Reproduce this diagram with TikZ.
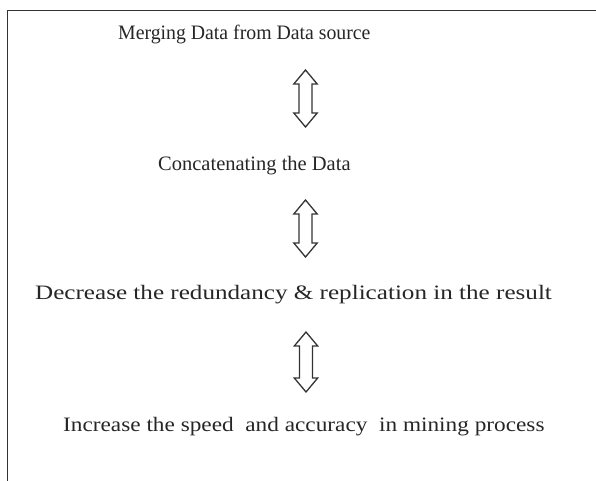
\documentclass[tikz,border=0pt]{standalone}
\usepackage{fontspec}
\usepackage{graphicx}
\setmainfont{Liberation Serif}
\begin{document}
\begin{tikzpicture}[x=1pt,y=-1pt,
  frameline/.style={line width=1.5pt, draw=black!80},
  steptext/.style={anchor=base west, inner sep=0pt, font=\fontsize{20.5}{24}\selectfont, text=black!85},
  arrowline/.style={line width=1.3pt, draw=black!80, line join=miter},
  updown/.pic={
    \draw[arrowline] (0,-#1) -- (11.7,-#1+14) -- (6.5,-#1+14) -- (6.5,#1-14)
      -- (11.7,#1-14) -- (0,#1) -- (-11.7,#1-14) -- (-6.5,#1-14)
      -- (-6.5,-#1+14) -- (-11.7,-#1+14) -- cycle;
  }]
  \useasboundingbox (0,0) rectangle (596,481);

  % open frame: top edge and left edge only
  \coordinate (topleft) at (7.5,10.5);
  \coordinate (topright) at (600,10.5);
  \coordinate (bottomleft) at (7.5,485);
  \draw[frameline] (topright) -- (topleft) -- (bottomleft);

  % the four stages
  \node[steptext] (merge)  at (118,39.5) {\scalebox{0.965}[1]{Merging Data from Data source}};
  \node[steptext] (concat) at (158,170)  {\scalebox{1.0}[1]{Concatenating the Data}};
  \node[steptext] (reduce) at (35,299)   {\scalebox{1.225}[1]{Decrease the redundancy \& replication in the result}};
  \node[steptext] (speed)  at (63,431)   {\scalebox{1.135}[1]{Increase the speed\ \ and accuracy\ \ in mining process}};

  % two-way arrows between the stages
  \coordinate (a1) at (305.5,98.5);
  \coordinate (a2) at (305.5,228.5);
  \coordinate (a3) at (306,362);
  \pic at (a1) {updown=28.5};
  \pic at (a2) {updown=28.5};
  \pic at (a3) {updown=30};
\end{tikzpicture}
\end{document}
